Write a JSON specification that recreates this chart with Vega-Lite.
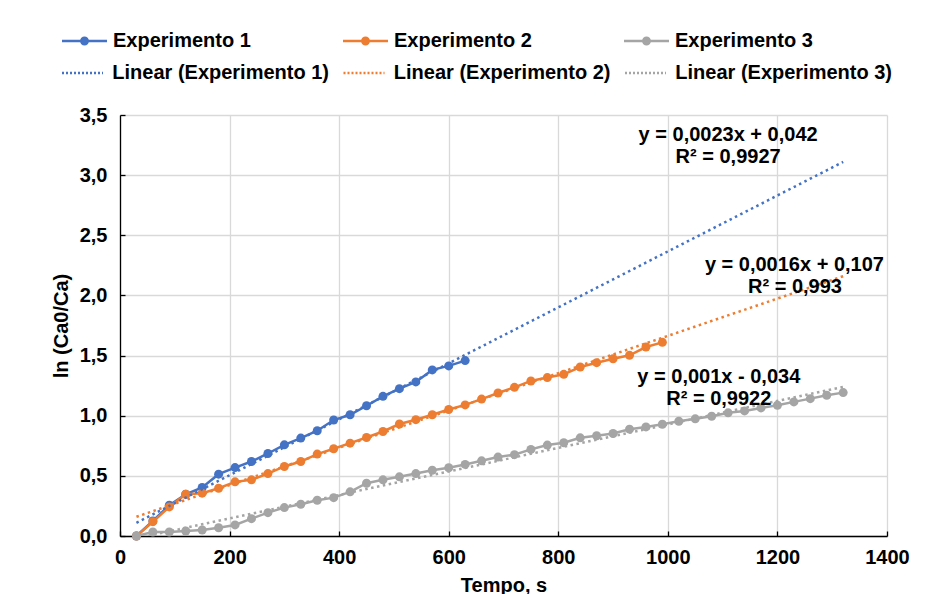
{
  "$schema": "https://vega.github.io/schema/vega-lite/v6.json",
  "width": 767,
  "height": 421,
  "autosize": {"type": "none"},
  "padding": {"left": 120, "top": 115, "right": 49, "bottom": 58},
  "background": "white",
  "config": {
    "view": {"stroke": null},
    "font": "Liberation Sans",
    "axis": {
      "grid": true,
      "gridColor": "#d9d9d9",
      "gridWidth": 1.3,
      "domainColor": "black",
      "domainWidth": 1.3,
      "tickColor": "black",
      "tickWidth": 1.3,
      "tickSize": -5,
      "labelFont": "Liberation Sans",
      "labelFontSize": 20,
      "labelFontWeight": "bold",
      "labelColor": "black",
      "labelFlush": false,
      "labelOverlap": false,
      "titleFont": "Liberation Sans",
      "titleFontSize": 20,
      "titleFontWeight": "bold",
      "titleColor": "black"
    },
    "legend": {
      "labelFont": "Liberation Sans",
      "labelFontSize": 20,
      "labelFontWeight": "bold",
      "labelColor": "black",
      "labelLimit": 400
    }
  },
  "datasets": {
    "pts": [
      {"series": "Experimento 1", "t": 30, "v": 0.0},
      {"series": "Experimento 1", "t": 60, "v": 0.125},
      {"series": "Experimento 1", "t": 90, "v": 0.256},
      {"series": "Experimento 1", "t": 120, "v": 0.347},
      {"series": "Experimento 1", "t": 150, "v": 0.403},
      {"series": "Experimento 1", "t": 180, "v": 0.514},
      {"series": "Experimento 1", "t": 210, "v": 0.569},
      {"series": "Experimento 1", "t": 240, "v": 0.619},
      {"series": "Experimento 1", "t": 270, "v": 0.686},
      {"series": "Experimento 1", "t": 300, "v": 0.758},
      {"series": "Experimento 1", "t": 330, "v": 0.814},
      {"series": "Experimento 1", "t": 360, "v": 0.875},
      {"series": "Experimento 1", "t": 390, "v": 0.964},
      {"series": "Experimento 1", "t": 420, "v": 1.008},
      {"series": "Experimento 1", "t": 450, "v": 1.083},
      {"series": "Experimento 1", "t": 480, "v": 1.161},
      {"series": "Experimento 1", "t": 510, "v": 1.225},
      {"series": "Experimento 1", "t": 540, "v": 1.281},
      {"series": "Experimento 1", "t": 570, "v": 1.381},
      {"series": "Experimento 1", "t": 600, "v": 1.414},
      {"series": "Experimento 1", "t": 630, "v": 1.458},
      {"series": "Experimento 2", "t": 30, "v": 0.0},
      {"series": "Experimento 2", "t": 60, "v": 0.119},
      {"series": "Experimento 2", "t": 90, "v": 0.242},
      {"series": "Experimento 2", "t": 120, "v": 0.347},
      {"series": "Experimento 2", "t": 150, "v": 0.356},
      {"series": "Experimento 2", "t": 180, "v": 0.397},
      {"series": "Experimento 2", "t": 210, "v": 0.45},
      {"series": "Experimento 2", "t": 240, "v": 0.467},
      {"series": "Experimento 2", "t": 270, "v": 0.519},
      {"series": "Experimento 2", "t": 300, "v": 0.578},
      {"series": "Experimento 2", "t": 330, "v": 0.619},
      {"series": "Experimento 2", "t": 360, "v": 0.681},
      {"series": "Experimento 2", "t": 390, "v": 0.725},
      {"series": "Experimento 2", "t": 420, "v": 0.772},
      {"series": "Experimento 2", "t": 450, "v": 0.819},
      {"series": "Experimento 2", "t": 480, "v": 0.869},
      {"series": "Experimento 2", "t": 510, "v": 0.931},
      {"series": "Experimento 2", "t": 540, "v": 0.967},
      {"series": "Experimento 2", "t": 570, "v": 1.008},
      {"series": "Experimento 2", "t": 600, "v": 1.052},
      {"series": "Experimento 2", "t": 630, "v": 1.09},
      {"series": "Experimento 2", "t": 660, "v": 1.138},
      {"series": "Experimento 2", "t": 690, "v": 1.189},
      {"series": "Experimento 2", "t": 720, "v": 1.236},
      {"series": "Experimento 2", "t": 750, "v": 1.289},
      {"series": "Experimento 2", "t": 780, "v": 1.317},
      {"series": "Experimento 2", "t": 810, "v": 1.344},
      {"series": "Experimento 2", "t": 840, "v": 1.405},
      {"series": "Experimento 2", "t": 870, "v": 1.441},
      {"series": "Experimento 2", "t": 900, "v": 1.474},
      {"series": "Experimento 2", "t": 930, "v": 1.502},
      {"series": "Experimento 2", "t": 960, "v": 1.571},
      {"series": "Experimento 2", "t": 990, "v": 1.61},
      {"series": "Experimento 3", "t": 30, "v": 0.0},
      {"series": "Experimento 3", "t": 60, "v": 0.033},
      {"series": "Experimento 3", "t": 90, "v": 0.033},
      {"series": "Experimento 3", "t": 120, "v": 0.042},
      {"series": "Experimento 3", "t": 150, "v": 0.05},
      {"series": "Experimento 3", "t": 180, "v": 0.069},
      {"series": "Experimento 3", "t": 210, "v": 0.092},
      {"series": "Experimento 3", "t": 240, "v": 0.144},
      {"series": "Experimento 3", "t": 270, "v": 0.194},
      {"series": "Experimento 3", "t": 300, "v": 0.236},
      {"series": "Experimento 3", "t": 330, "v": 0.264},
      {"series": "Experimento 3", "t": 360, "v": 0.297},
      {"series": "Experimento 3", "t": 390, "v": 0.319},
      {"series": "Experimento 3", "t": 420, "v": 0.367},
      {"series": "Experimento 3", "t": 450, "v": 0.439},
      {"series": "Experimento 3", "t": 480, "v": 0.467},
      {"series": "Experimento 3", "t": 510, "v": 0.492},
      {"series": "Experimento 3", "t": 540, "v": 0.519},
      {"series": "Experimento 3", "t": 570, "v": 0.547},
      {"series": "Experimento 3", "t": 600, "v": 0.567},
      {"series": "Experimento 3", "t": 630, "v": 0.595},
      {"series": "Experimento 3", "t": 660, "v": 0.625},
      {"series": "Experimento 3", "t": 690, "v": 0.656},
      {"series": "Experimento 3", "t": 720, "v": 0.676},
      {"series": "Experimento 3", "t": 750, "v": 0.72},
      {"series": "Experimento 3", "t": 780, "v": 0.756},
      {"series": "Experimento 3", "t": 810, "v": 0.775},
      {"series": "Experimento 3", "t": 840, "v": 0.816},
      {"series": "Experimento 3", "t": 870, "v": 0.833},
      {"series": "Experimento 3", "t": 900, "v": 0.852},
      {"series": "Experimento 3", "t": 930, "v": 0.888},
      {"series": "Experimento 3", "t": 960, "v": 0.907},
      {"series": "Experimento 3", "t": 990, "v": 0.929},
      {"series": "Experimento 3", "t": 1020, "v": 0.954},
      {"series": "Experimento 3", "t": 1050, "v": 0.974},
      {"series": "Experimento 3", "t": 1080, "v": 0.996},
      {"series": "Experimento 3", "t": 1110, "v": 1.024},
      {"series": "Experimento 3", "t": 1140, "v": 1.04},
      {"series": "Experimento 3", "t": 1170, "v": 1.065},
      {"series": "Experimento 3", "t": 1200, "v": 1.087},
      {"series": "Experimento 3", "t": 1230, "v": 1.115},
      {"series": "Experimento 3", "t": 1260, "v": 1.142},
      {"series": "Experimento 3", "t": 1290, "v": 1.17},
      {"series": "Experimento 3", "t": 1320, "v": 1.192}
    ],
    "trend": [
      {"series": "Linear (Experimento 1)", "t": 30, "v": 0.11},
      {"series": "Linear (Experimento 1)", "t": 1320, "v": 3.11},
      {"series": "Linear (Experimento 2)", "t": 30, "v": 0.16},
      {"series": "Linear (Experimento 2)", "t": 1320, "v": 2.16},
      {"series": "Linear (Experimento 3)", "t": 30, "v": -0.02},
      {"series": "Linear (Experimento 3)", "t": 1320, "v": 1.24}
    ],
    "eq": [
      {"label": "y = 0,0023x + 0,042", "t": 1110, "v": 3.286},
      {"label": "R² = 0,9927", "t": 1110, "v": 3.098},
      {"label": "y = 0,0016x + 0,107", "t": 1231, "v": 2.206},
      {"label": "R² = 0,993", "t": 1232, "v": 2.023},
      {"label": "y = 0,001x - 0,034", "t": 1093, "v": 1.274},
      {"label": "R² = 0,9922", "t": 1093, "v": 1.089}
    ]
  },
  "encoding": {
    "x": {
      "field": "t",
      "type": "quantitative",
      "scale": {"domain": [0, 1400], "nice": false},
      "axis": {
        "title": "Tempo, s",
        "values": [0, 200, 400, 600, 800, 1000, 1200, 1400],
        "format": "d",
        "labelPadding": 16,
        "titlePadding": 8
      }
    },
    "y": {
      "field": "v",
      "type": "quantitative",
      "scale": {"domain": [0, 3.5], "nice": false},
      "axis": {
        "title": "ln (Ca0/Ca)",
        "values": [0, 0.5, 1, 1.5, 2, 2.5, 3, 3.5],
        "labelExpr": "replace(format(datum.value, '.1f'), '.', ',')",
        "labelPadding": 18,
        "titlePadding": 8
      }
    }
  },
  "layer": [
    {
      "data": {"name": "pts"},
      "transform": [{"filter": "datum.series === 'Experimento 1'"}],
      "mark": {"type": "line", "strokeWidth": 2.5, "point": {"filled": true, "size": 81, "opacity": 1}},
      "encoding": {
        "color": {
          "field": "series",
          "type": "nominal",
          "scale": {
            "domain": ["Experimento 1", "Experimento 2", "Experimento 3"],
            "range": ["#4472C4", "#ED7D31", "#A5A5A5"]
          },
          "legend": {
            "orient": "none",
            "legendX": -59.5,
            "legendY": -98,
            "columns": 3,
            "direction": "horizontal",
            "title": null,
            "symbolType": "M-1,0H1M-0.142,0A0.142,0.142,0,1,0,0.142,0A0.142,0.142,0,1,0,-0.142,0M-0.0756,0A0.0756,0.0756,0,1,0,0.0756,0A0.0756,0.0756,0,1,0,-0.0756,0M-0.0222,0A0.0222,0.0222,0,1,0,0.0222,0A0.0222,0.0222,0,1,0,-0.0222,0",
            "symbolSize": 2025,
            "symbolStrokeWidth": 2.5,
            "symbolOpacity": 1,
            "labelOffset": 4.5,
            "columnPadding": 86
          }
        }
      }
    },
    {
      "data": {"name": "pts"},
      "transform": [{"filter": "datum.series === 'Experimento 2'"}],
      "mark": {"type": "line", "strokeWidth": 2.5, "point": {"filled": true, "size": 81, "opacity": 1}},
      "encoding": {"color": {"field": "series", "type": "nominal"}}
    },
    {
      "data": {"name": "pts"},
      "transform": [{"filter": "datum.series === 'Experimento 3'"}],
      "mark": {"type": "line", "strokeWidth": 2.5, "point": {"filled": true, "size": 81, "opacity": 1}},
      "encoding": {"color": {"field": "series", "type": "nominal"}}
    },
    {
      "data": {"name": "trend"},
      "mark": {"type": "line", "strokeWidth": 2.5, "strokeDash": [2.5, 3.5], "strokeCap": "butt", "clip": true},
      "encoding": {
        "stroke": {
          "field": "series",
          "type": "nominal",
          "scale": {
            "domain": ["Linear (Experimento 1)", "Linear (Experimento 2)", "Linear (Experimento 3)"],
            "range": ["#4472C4", "#ED7D31", "#A5A5A5"]
          },
          "legend": {
            "orient": "none",
            "legendX": -59.5,
            "legendY": -64,
            "columns": 3,
            "direction": "horizontal",
            "title": null,
            "symbolType": "stroke",
            "symbolSize": 1681,
            "symbolStrokeWidth": 2.5,
            "symbolDash": [2, 2],
            "labelOffset": 7.8,
            "columnPadding": 8.5
          }
        }
      }
    },
    {
      "data": {"name": "eq"},
      "mark": {"type": "text", "font": "Liberation Sans", "fontSize": 20, "fontWeight": "bold", "align": "center", "baseline": "alphabetic", "color": "black"},
      "encoding": {"text": {"field": "label", "type": "nominal"}}
    }
  ]
}
